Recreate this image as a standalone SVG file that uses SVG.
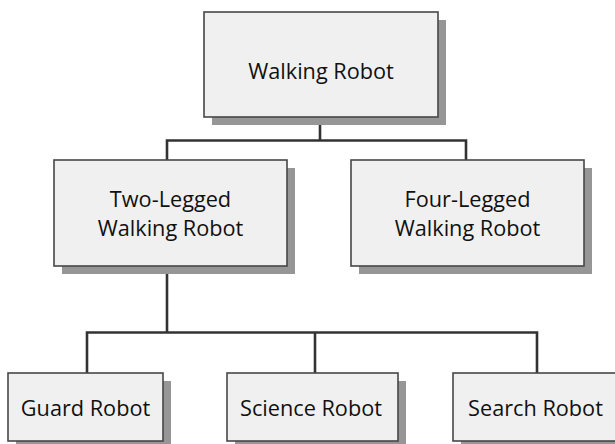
<svg xmlns="http://www.w3.org/2000/svg" width="615" height="444" viewBox="0 0 615 444">
<style>
.shadow{fill:#969696;stroke:none}
.box{fill:#f0f0f0;stroke:#474747;stroke-width:1.6}
.lbl{font-family:"Open Sans","Liberation Sans",sans-serif;font-size:21.7px;fill:#111;text-anchor:middle}
.conn{fill:none;stroke:#333;stroke-width:2.6}
</style>
<rect width="615" height="444" fill="#fff"/>
<g id="connectors">
<path class="conn" d="M320,117 V140.5 M167,160 V140.5 H466 V160"/>
<path class="conn" d="M167,266 V332.5 M87,373 V332.5 H537 V373 M315,332.5 V373"/>
</g>
<g id="walking-robot">
<rect class="shadow" x="212" y="20" width="234" height="105"/>
<rect class="box" x="204" y="12" width="234" height="105"/>
<text class="lbl" x="321" y="79">Walking Robot</text>
</g>
<g id="two-legged">
<rect class="shadow" x="62" y="168" width="233" height="106"/>
<rect class="box" x="54" y="160" width="233" height="106"/>
<text class="lbl" x="170.5" y="207">Two-Legged</text>
<text class="lbl" x="170.5" y="236">Walking Robot</text>
</g>
<g id="four-legged">
<rect class="shadow" x="359" y="168" width="233" height="106"/>
<rect class="box" x="351" y="160" width="233" height="106"/>
<text class="lbl" x="467.5" y="207">Four-Legged</text>
<text class="lbl" x="467.5" y="236">Walking Robot</text>
</g>
<g id="guard-robot">
<rect class="shadow" x="16" y="381" width="155" height="68"/>
<rect class="box" x="8" y="373" width="155" height="68"/>
<text class="lbl" x="85.5" y="416">Guard Robot</text>
</g>
<g id="science-robot">
<rect class="shadow" x="235" y="381" width="171" height="68"/>
<rect class="box" x="227" y="373" width="171" height="68"/>
<text class="lbl" x="311" y="416">Science Robot</text>
</g>
<g id="search-robot">
<rect class="shadow" x="461" y="381" width="165" height="68"/>
<rect class="box" x="453" y="373" width="165" height="68"/>
<text class="lbl" x="535.5" y="416">Search Robot</text>
</g>
</svg>
